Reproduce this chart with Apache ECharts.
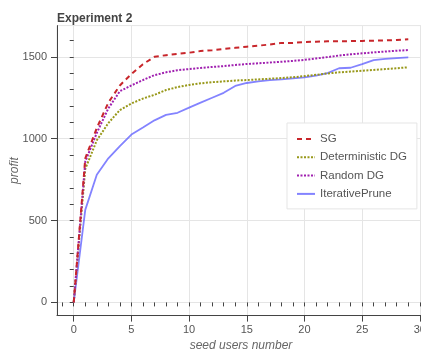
<!DOCTYPE html>
<html>
<head>
<meta charset="utf-8">
<script src="https://cdn.jsdelivr.net/npm/echarts@6/dist/echarts.min.js"></script>
<style>
  html, body { margin: 0; padding: 0; background: #fff; }
  #chart { width: 421px; height: 356px; }
</style>
</head>
<body>
<div id="chart"></div>
<script>
// seed users number 0..29
const seeds = [0, 1, 2, 3, 4, 5, 6, 7, 8, 9, 10, 11, 12, 13, 14, 15, 16, 17, 18, 19, 20, 21, 22, 23, 24, 25, 26, 27, 28, 29];

const sg = [0, 880, 1065, 1220, 1325, 1395, 1455, 1500, 1510, 1518, 1525, 1535, 1540, 1548, 1555, 1562, 1568, 1575, 1585, 1585, 1590, 1592, 1595, 1595, 1596, 1597, 1598, 1600, 1603, 1607];
const detDG = [0, 815, 990, 1095, 1175, 1215, 1245, 1268, 1297, 1315, 1328, 1338, 1345, 1350, 1355, 1358, 1362, 1366, 1370, 1375, 1382, 1390, 1398, 1405, 1410, 1415, 1420, 1425, 1430, 1436];
const randDG = [0, 860, 1035, 1185, 1290, 1325, 1358, 1388, 1405, 1418, 1425, 1432, 1438, 1443, 1450, 1456, 1460, 1465, 1470, 1475, 1481, 1490, 1498, 1508, 1515, 1521, 1527, 1532, 1537, 1541];
const iterPrune = [0, 565, 780, 880, 955, 1025, 1068, 1112, 1145, 1158, 1190, 1220, 1250, 1280, 1322, 1340, 1350, 1357, 1362, 1368, 1374, 1385, 1400, 1430, 1433, 1455, 1480, 1487, 1492, 1496];

const xTicks = [0, 5, 10, 15, 20, 25, 30];
const xMinor = [-1, 0, 1, 2, 3, 4, 5, 6, 7, 8, 9, 10, 11, 12, 13, 14, 15, 16, 17, 18, 19, 20, 21, 22, 23, 24, 25, 26, 27, 28, 29, 30];
const yTicks = [0, 500, 1000, 1500];
const yMinor = [0, 100, 200, 300, 400, 500, 600, 700, 800, 900, 1000, 1100, 1200, 1300, 1400, 1500, 1600];

const pairs = arr => seeds.map((s, i) => [s, arr[i]]);

const chart = echarts.init(document.getElementById('chart'));
const font = 'Liberation Sans, Arial, Helvetica, sans-serif';
const axisColor = '#444';

const xRange = { min: -1.45, max: 30.45 };
const yRange = { min: -80.5, max: 1690.5 };

const option = {
  animation: false,
  backgroundColor: '#fff',
  title: {
    text: 'Experiment 2',
    left: 52,
    top: 8,
    textStyle: { fontFamily: font, fontSize: 12, fontWeight: 'bold', color: '#444' }
  },
  grid: {
    left: 57,
    top: 25.6,
    width: 368,
    height: 290,
    outerBoundsMode: 'none',
    containLabel: false,
    show: true,
    borderColor: '#e5e5e5',
    borderWidth: 1
  },
  legend: {
    orient: 'vertical',
    left: 287,
    top: 123,
    padding: [10, 10, 9, 9],
    itemWidth: 18,
    itemHeight: 14,
    itemGap: 6.3,
    backgroundColor: '#fff',
    borderColor: '#e5e5e5',
    borderWidth: 1,
    itemStyle: { opacity: 0 },
    textStyle: { fontFamily: font, fontSize: 11.5, color: '#555' },
    data: ['SG', 'Deterministic DG', 'Random DG', 'IterativePrune']
  },
  xAxis: [
    {
      type: 'value',
      ...xRange,
      name: 'seed users number',
      nameLocation: 'middle',
      nameGap: 24,
      nameMoveOverlap: false,
      nameTextStyle: { fontFamily: font, fontSize: 12, fontStyle: 'italic', color: '#666' },
      axisLine: { show: true, onZero: false, lineStyle: { color: axisColor, width: 1 } },
      axisTick: { show: true, inside: false, length: 6, customValues: xTicks, lineStyle: { color: axisColor } },
      axisLabel: { customValues: xTicks, margin: 9, fontFamily: font, fontSize: 11, color: '#555', formatter: v => String(v) },
      splitLine: { show: true, lineStyle: { color: '#e5e5e5' } }
    },
    {
      type: 'value',
      ...xRange,
      position: 'bottom',
      axisLine: { show: false },
      axisTick: { show: true, inside: false, length: 4, customValues: xMinor, lineStyle: { color: axisColor } },
      axisLabel: { show: false },
      splitLine: { show: false }
    }
  ],
  yAxis: [
    {
      type: 'value',
      ...yRange,
      name: 'profit',
      nameLocation: 'middle',
      nameGap: 36,
      nameMoveOverlap: false,
      nameTextStyle: { fontFamily: font, fontSize: 12, fontStyle: 'italic', color: '#666' },
      axisLine: { show: true, onZero: false, lineStyle: { color: axisColor, width: 1 } },
      axisTick: { show: true, inside: false, length: 6, customValues: yTicks, lineStyle: { color: axisColor } },
      axisLabel: { customValues: yTicks, margin: 10, fontFamily: font, fontSize: 11, color: '#555', formatter: v => String(v) },
      splitLine: { show: true, lineStyle: { color: '#e5e5e5' } }
    },
    {
      type: 'value',
      ...yRange,
      position: 'left',
      axisLine: { show: false },
      axisTick: { show: true, inside: false, length: 4, customValues: yMinor, lineStyle: { color: axisColor } },
      axisLabel: { show: false },
      splitLine: { show: false }
    }
  ],
  series: [
    {
      name: 'SG',
      type: 'line',
      data: pairs(sg),
      symbol: 'none',
      z: 4,
      lineStyle: { color: '#c8262b', width: 2, type: [5, 4] },
      itemStyle: { color: '#c8262b' }
    },
    {
      name: 'Deterministic DG',
      type: 'line',
      data: pairs(detDG),
      symbol: 'none',
      z: 3,
      lineStyle: { color: '#98981a', width: 2, type: [2, 1.5] },
      itemStyle: { color: '#98981a' }
    },
    {
      name: 'Random DG',
      type: 'line',
      data: pairs(randDG),
      symbol: 'none',
      z: 3,
      lineStyle: { color: '#a020b0', width: 2, type: [2, 1.5] },
      itemStyle: { color: '#a020b0' }
    },
    {
      name: 'IterativePrune',
      type: 'line',
      data: pairs(iterPrune),
      symbol: 'none',
      z: 2,
      lineStyle: { color: '#5a5aff', width: 1.8, opacity: 0.75 },
      itemStyle: { color: '#5a5aff' }
    }
  ]
};

chart.setOption(option);
</script>
</body>
</html>
